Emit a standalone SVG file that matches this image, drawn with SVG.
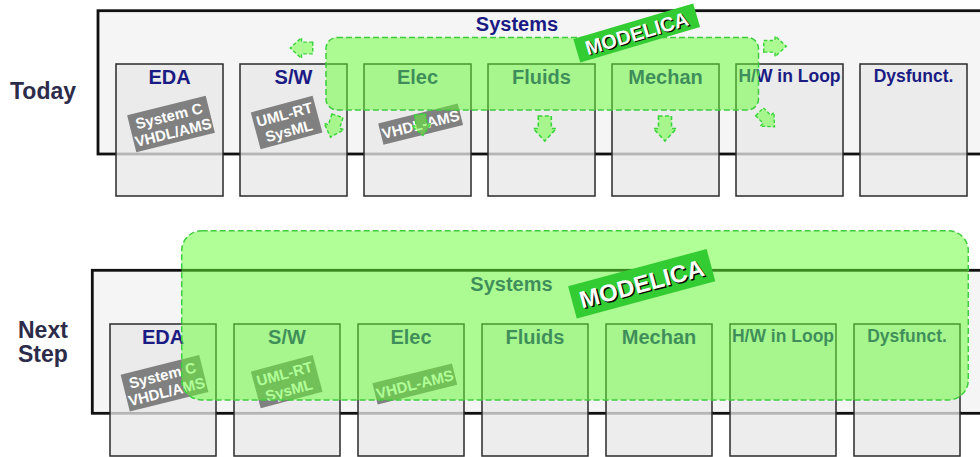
<svg xmlns="http://www.w3.org/2000/svg" width="980" height="457" viewBox="0 0 980 457">
  <style>
    .frame { fill: #f5f5f5; stroke: #111; stroke-width: 2.8; }
    .box { fill: #e8e8e8; fill-opacity: 0.77; stroke: #2a2a2a; stroke-width: 1.5; }
    .lbl { font-family: "Liberation Sans", Arial, sans-serif; font-weight: bold; fill: #1b1b84; text-anchor: middle; }
    .big { font-size: 20px; }
    .mid { font-size: 17.5px; }
    .row { font-family: "Liberation Sans", Arial, sans-serif; font-weight: bold; font-size: 23px; fill: #2c2c4a; }
    .tag rect { fill: #808080; }
    .tag text { font-family: "Liberation Sans", Arial, sans-serif; font-weight: bold; font-size: 15px; fill: #fff; text-anchor: middle; }
    .zone { fill: #62ff2f; fill-opacity: 0.5; stroke: #3fcc3f; stroke-width: 1.5; stroke-dasharray: 6 3; }
    .arrow { fill: #62ff2f; fill-opacity: 0.5; stroke: #3ad43a; stroke-width: 1.6; stroke-dasharray: 4 2.5; }
    .mod rect { fill: #33cc33; }
    .mod text { font-family: "Liberation Sans", Arial, sans-serif; font-weight: bold; fill: #fff; text-anchor: middle; }
    .mod .sh { fill: #000; }
  </style>
  <defs>
    <path id="down" d="M-6.5,-12.5 H6.5 V0 H11.5 L0,12.5 L-11.5,0 H-6.5 Z"/>
  </defs>

  <!-- row captions -->
  <text class="row" x="10" y="99">Today</text>
  <text class="row" x="18" y="338">Next</text>
  <text class="row" x="18" y="362">Step</text>

  <!-- ============ Today ============ -->
  <g id="today">
    <rect class="frame" x="98" y="10.7" width="900" height="143.3"/>
    <text class="lbl big" x="517" y="31">Systems</text>

    <g id="t-eda">
      <rect class="box" x="116" y="64" width="107" height="132"/>
      <text class="lbl big" x="169.5" y="84">EDA</text>
      <g class="tag" transform="translate(171,124) rotate(-14)">
        <rect x="-40.5" y="-19" width="81" height="38"/>
        <text x="0" y="-3">System C</text>
        <text x="0" y="14">VHDL/AMS</text>
      </g>
    </g>
    <g id="t-sw">
      <rect class="box" x="240" y="64" width="107" height="132"/>
      <text class="lbl big" x="293.5" y="84">S/W</text>
      <g class="tag" transform="translate(286.6,122.5) rotate(-15)">
        <rect x="-32" y="-19" width="64" height="38"/>
        <text x="0" y="-3">UML-RT</text>
        <text x="0" y="14">SysML</text>
      </g>
    </g>
    <g id="t-elec">
      <rect class="box" x="364" y="64" width="107" height="132"/>
      <text class="lbl big" x="417.5" y="84">Elec</text>
      <g class="tag" transform="translate(420.6,124.2) rotate(-14)">
        <rect x="-41" y="-11" width="82" height="22"/>
        <text x="0" y="5.5">VHDL-AMS</text>
      </g>
    </g>
    <g id="t-fluids">
      <rect class="box" x="488" y="64" width="107" height="132"/>
      <text class="lbl big" x="541.5" y="84">Fluids</text>
    </g>
    <g id="t-mechan">
      <rect class="box" x="612" y="64" width="107" height="132"/>
      <text class="lbl big" x="665.5" y="84">Mechan</text>
    </g>
    <g id="t-hw">
      <rect class="box" x="736" y="64" width="107" height="132"/>
      <text class="lbl mid" x="789.5" y="82">H/W in Loop</text>
    </g>
    <g id="t-dys">
      <rect class="box" x="860" y="64" width="107" height="132"/>
      <text class="lbl mid" x="913.5" y="82">Dysfunct.</text>
    </g>

    <rect id="t-zone" class="zone" x="326" y="37.5" width="432.5" height="72.5" rx="11"/>

    <g id="t-modelica" class="mod" transform="translate(636.7,33) rotate(-16.5)">
      <rect x="-62.5" y="-12.2" width="125" height="24.4"/>
      <text class="sh" x="1" y="8.6" font-size="20">MODELICA</text>
      <text x="0" y="7.3" font-size="20">MODELICA</text>
    </g>

    <!-- flow arrows leaving the modelling zone -->
    <g id="arrows">
      <use href="#down" class="arrow" transform="translate(301.5,48) rotate(90) scale(0.9)"/>
      <use href="#down" class="arrow" transform="translate(775,46.3) rotate(-90) scale(0.9)"/>
      <use href="#down" class="arrow" transform="translate(334,126.5) rotate(18) scale(0.9)"/>
      <use href="#down" class="arrow" transform="translate(421.5,125) rotate(-8) scale(0.85)"/>
      <use href="#down" class="arrow" transform="translate(544.8,128.5)"/>
      <use href="#down" class="arrow" transform="translate(665,128.5)"/>
      <use href="#down" class="arrow" transform="translate(767,119.3) rotate(-45) scale(0.85)"/>
    </g>
  </g>

  <!-- ============ Next Step ============ -->
  <g id="next">
    <rect class="frame" x="92.3" y="270.3" width="900" height="143"/>
    <text class="lbl big" x="511.5" y="291">Systems</text>

    <g id="n-eda">
      <rect class="box" x="110" y="324" width="106" height="132"/>
      <text class="lbl big" x="163" y="343.5">EDA</text>
      <g class="tag" transform="translate(164.5,383.3) rotate(-14)">
        <rect x="-40.5" y="-19" width="81" height="38"/>
        <text x="0" y="-3">System C</text>
        <text x="0" y="14">VHDL/AMS</text>
      </g>
    </g>
    <g id="n-sw">
      <rect class="box" x="234" y="324" width="106" height="132"/>
      <text class="lbl big" x="287" y="343.5">S/W</text>
      <g class="tag" transform="translate(286.7,381.7) rotate(-15)">
        <rect x="-32" y="-19" width="64" height="38"/>
        <text x="0" y="-3">UML-RT</text>
        <text x="0" y="14">SysML</text>
      </g>
    </g>
    <g id="n-elec">
      <rect class="box" x="358" y="324" width="106" height="132"/>
      <text class="lbl big" x="411" y="343.5">Elec</text>
      <g class="tag" transform="translate(414.8,384) rotate(-14)">
        <rect x="-41" y="-11" width="82" height="22"/>
        <text x="0" y="5.5">VHDL-AMS</text>
      </g>
    </g>
    <g id="n-fluids">
      <rect class="box" x="482" y="324" width="106" height="132"/>
      <text class="lbl big" x="535" y="343.5">Fluids</text>
    </g>
    <g id="n-mechan">
      <rect class="box" x="606" y="324" width="106" height="132"/>
      <text class="lbl big" x="659" y="343.5">Mechan</text>
    </g>
    <g id="n-hw">
      <rect class="box" x="730" y="324" width="106" height="132"/>
      <text class="lbl mid" x="783" y="341.5">H/W in Loop</text>
    </g>
    <g id="n-dys">
      <rect class="box" x="854" y="324" width="106" height="132"/>
      <text class="lbl mid" x="907" y="341.5">Dysfunct.</text>
    </g>

    <rect id="n-zone" class="zone" x="181.7" y="230.7" width="786.6" height="169.3" rx="20"/>

    <g id="n-modelica" class="mod" transform="translate(641.7,283.7) rotate(-15)">
      <rect x="-71.7" y="-16.7" width="143.4" height="33.4"/>
      <text class="sh" x="1.2" y="10" font-size="24">MODELICA</text>
      <text x="0" y="8.5" font-size="24">MODELICA</text>
    </g>
  </g>
</svg>
